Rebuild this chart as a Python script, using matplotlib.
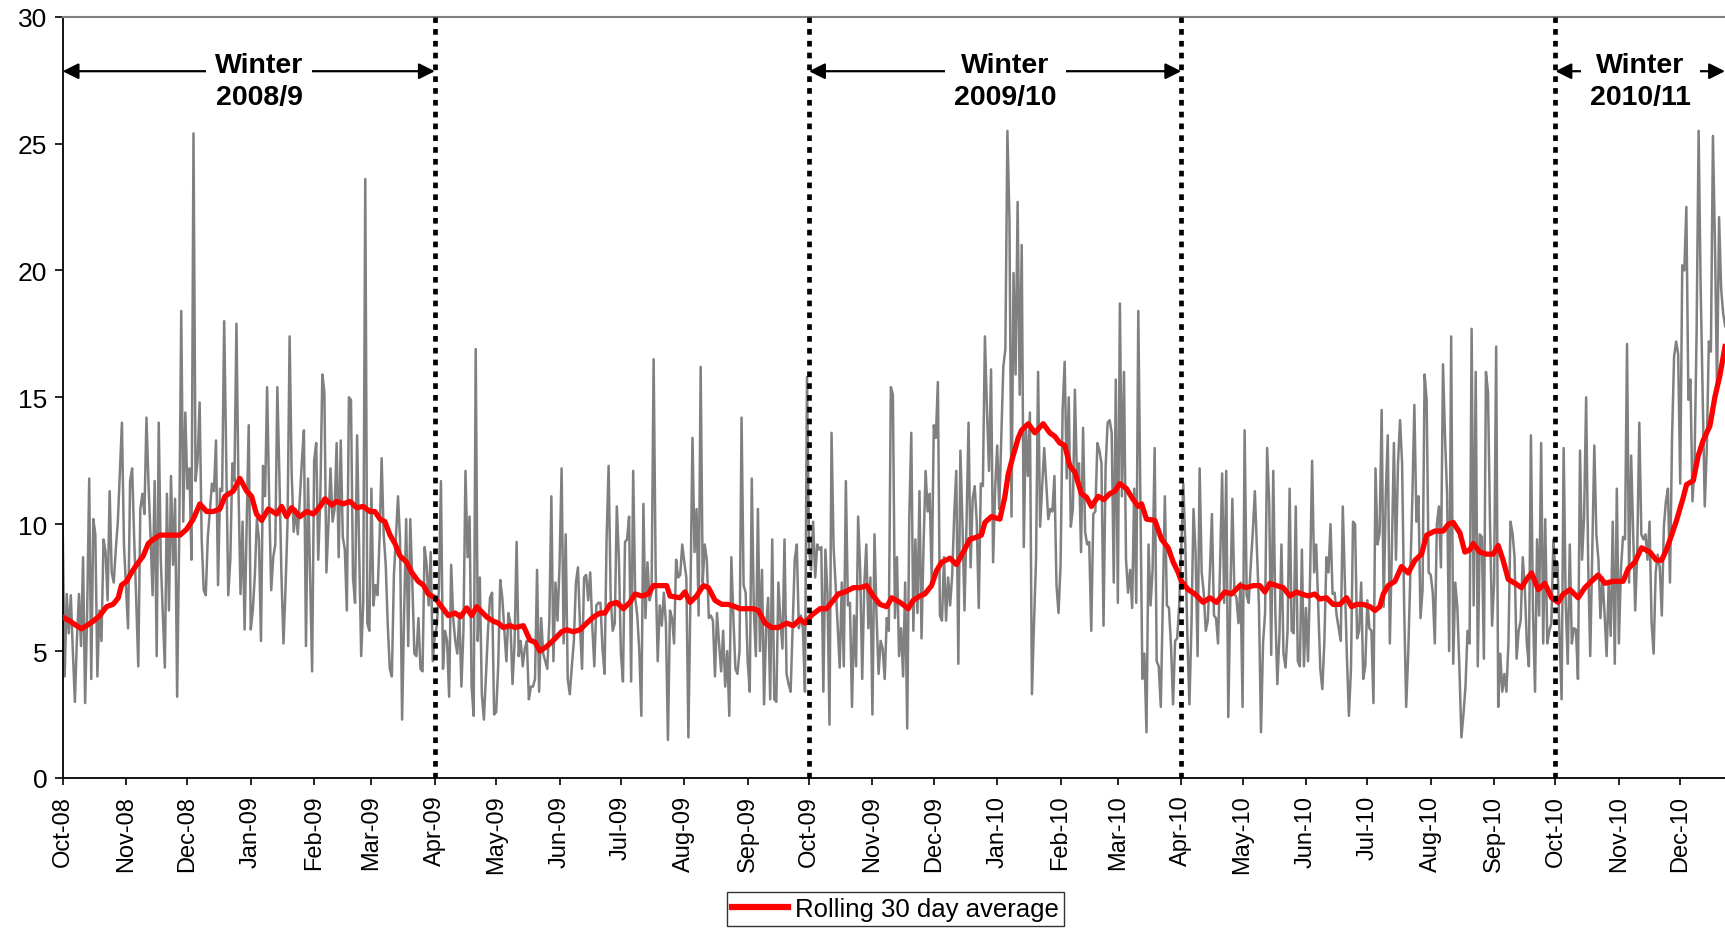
import numpy as np
import pandas as pd
import matplotlib
matplotlib.use("Agg")
import matplotlib.pyplot as plt
import matplotlib.dates as mdates

plt.rcParams['font.family'] = ['Liberation Sans', 'DejaVu Sans']

start = pd.Timestamp("2008-10-01")

# daily values, one list per half-year (Oct-Mar winters, Apr-Sep summers)
winter_0809 = [
    10.1, 4.0, 7.25, 5.7, 7.2, 5.0, 3.0, 5.5, 7.25, 5.2,
    8.7, 2.95, 6.5, 11.8, 3.9, 10.2, 9.6, 4.0, 6.6, 5.4,
    9.4, 8.9, 7.0, 11.3, 8.1, 7.7, 9.0, 10.1, 12.0, 14.0,
    9.2, 7.5, 5.9, 11.7, 12.2, 9.4, 7.0, 4.4, 10.6, 11.2,
    10.4, 14.2, 11.6, 9.5, 7.2, 11.7, 4.8, 14.0, 8.6, 6.5,
    4.35, 11.2, 6.6, 11.9, 8.4, 11.0, 3.2, 9.4, 18.4, 10.1,
    14.4, 11.4, 12.2, 8.6, 25.4, 11.7, 12.5, 14.8, 9.4, 7.4,
    7.2, 9.5, 10.5, 11.6, 11.3, 13.3, 7.6, 11.4, 11.3, 18.0,
    12.7, 7.2, 8.6, 12.4, 11.7, 17.9, 11.4, 7.25, 10.1, 5.85,
    10.0, 13.9, 5.85, 6.6, 8.0, 10.2, 9.4, 5.4, 12.3, 11.1,
    15.4, 11.0, 7.4, 8.7, 9.2, 15.4, 11.9, 8.0, 5.3, 7.5,
    10.1, 17.4, 12.0, 9.7, 10.6, 9.6, 11.0, 12.5, 13.7, 5.2,
    11.8, 8.0, 4.2, 12.5, 13.2, 8.6, 11.0, 15.9, 15.2, 8.1,
    10.0, 12.2, 10.1, 10.6, 13.2, 8.7, 13.3, 9.5, 9.0, 6.6,
    15.0, 14.9, 7.9, 6.9, 13.5, 9.0, 4.8, 6.9, 23.6, 6.1,
    5.8, 11.4, 6.8, 7.6, 7.2, 9.5, 12.6, 9.6, 8.4, 6.0,
    4.3, 4.0, 8.0, 9.5, 11.1, 9.4, 2.3, 6.5, 10.2, 5.2,
    10.2, 7.7, 4.9, 4.8, 6.3, 4.3, 4.2, 9.1, 8.4, 6.8,
    8.9, 4.6,
]
summer_09 = [
    5.6, 6.0, 7.4, 11.7, 4.3, 5.8, 5.4, 3.2,
    8.4, 6.3, 5.4, 4.9, 6.5, 3.6, 5.8, 12.1, 8.7, 10.3,
    3.6, 2.45, 16.9, 5.4, 7.9, 3.3, 2.3, 4.0, 5.8, 7.1,
    7.3, 2.5, 2.6, 4.4, 7.8, 7.1, 5.8, 4.6, 6.5, 6.1,
    3.7, 5.3, 9.3, 4.8, 5.4, 4.4, 5.1, 5.4, 3.1, 3.6,
    3.6, 3.9, 8.2, 3.4, 6.3, 4.9, 4.6, 4.3, 6.2, 11.1,
    4.6, 7.7, 6.2, 8.4, 12.2, 5.3, 9.6, 3.9, 3.3, 4.4,
    5.4, 7.7, 8.3, 6.0, 4.3, 7.9, 8.0, 7.0, 8.1, 6.0,
    4.4, 6.8, 6.9, 6.9, 5.1, 4.1, 9.4, 12.3, 7.1, 5.8,
    6.1, 10.7, 8.7, 4.9, 3.8, 9.3, 9.4, 10.3, 3.8, 12.1,
    7.1, 6.4, 5.0, 2.45, 10.8, 6.3, 8.5, 7.0, 7.3, 16.5,
    8.1, 4.6, 6.8, 6.0, 7.3, 6.1, 1.5, 6.6, 6.3, 5.3,
    8.6, 7.9, 8.0, 9.2, 8.5, 7.9, 1.6, 7.1, 13.4, 8.9,
    10.6, 6.4, 16.2, 7.7, 9.2, 8.6, 6.3, 6.4, 6.2, 4.0,
    6.5, 5.3, 4.2, 5.8, 3.6, 5.0, 2.45, 8.7, 6.3, 4.3,
    4.1, 5.0, 14.2, 7.6, 7.3, 4.6, 3.4, 11.8, 6.6, 4.8,
    10.6, 5.0, 8.2, 2.9, 5.9, 7.1, 3.1, 9.4, 3.1, 3.0,
    7.7, 6.2, 5.1, 9.4, 4.1, 3.7, 3.4, 6.0, 8.6, 9.2,
    5.9, 6.4, 5.9, 3.4, 15.8,
]
winter_0910 = [
    9.0, 8.2, 10.1, 7.9, 9.2,
    9.0, 9.1, 3.4, 9.0, 7.3, 2.1, 13.6, 9.1, 7.6, 6.0,
    4.35, 7.7, 4.4, 11.7, 6.8, 6.9, 2.8, 6.4, 4.4, 10.3,
    8.2, 3.9, 7.6, 9.2, 5.9, 7.9, 2.5, 9.6, 6.4, 4.1,
    5.4, 5.1, 3.9, 6.3, 5.8, 15.4, 15.1, 6.3, 8.7, 4.8,
    5.9, 4.0, 7.7, 1.95, 10.2, 13.6, 5.8, 9.4, 6.5, 11.3,
    5.5, 9.2, 12.1, 10.5, 11.2, 7.7, 13.9, 13.4, 15.6, 6.4,
    6.2, 8.7, 6.2, 7.9, 6.8, 8.0, 10.4, 12.1, 4.5, 12.9,
    10.1, 6.6, 10.0, 14.0, 8.3, 11.0, 11.5, 10.1, 6.7, 11.6,
    11.5, 17.4, 14.5, 12.1, 16.1, 8.5, 11.4, 13.1, 10.6, 13.4,
    16.2, 16.9, 25.5, 22.0, 10.3, 19.9, 15.9, 22.7, 15.1, 21.0,
    9.1, 13.9, 11.9, 14.4, 3.3, 6.1, 8.6, 16.0, 9.9, 11.5,
    13.0, 11.6, 10.2, 10.6, 10.5, 11.9, 7.6, 6.5, 8.4, 14.5,
    16.4, 11.8, 15.0, 9.9, 10.6, 15.3, 11.8, 12.4, 8.9, 13.8,
    9.7, 9.2, 9.3, 5.8, 10.4, 10.5, 13.2, 12.9, 12.4, 6.0,
    12.2, 14.0, 14.1, 13.6, 7.7, 15.7, 6.9, 18.7, 11.1, 16.0,
    8.6, 7.3, 8.2, 6.7, 11.4, 6.9, 18.4, 11.1, 3.9, 4.9,
    1.8, 9.2, 6.8, 8.2, 13.0, 4.6, 4.4, 2.8, 6.9, 11.1,
    6.8, 6.7, 5.2, 2.9, 5.4, 5.5, 6.8,
]
summer_10 = [
    9.0, 11.6, 9.2,
    5.6, 2.9, 6.0, 10.6, 8.9, 4.8, 12.2, 8.1, 7.3, 5.8,
    6.2, 8.1, 10.4, 6.4, 6.3, 5.3, 8.4, 12.0, 6.9, 12.1,
    2.4, 7.1, 11.0, 7.3, 7.1, 6.1, 7.7, 2.8, 13.7, 7.2,
    6.9, 8.4, 9.7, 11.3, 9.0, 6.8, 1.8, 5.3, 6.5, 13.0,
    10.9, 4.85, 12.1, 6.6, 3.7, 5.6, 9.2, 4.9, 4.35, 5.8,
    11.4, 5.8, 5.7, 10.7, 4.6, 4.4, 9.0, 4.4, 6.7, 4.6,
    7.9, 12.5, 8.1, 9.2, 6.8, 4.3, 3.5, 5.4, 8.7, 8.1,
    10.0, 7.25, 7.3, 6.4, 5.9, 5.4, 10.7, 7.7, 4.8, 2.45,
    4.3, 10.1, 10.0, 5.5, 5.8, 7.7, 3.9, 4.4, 7.0, 5.9,
    5.8, 2.95, 12.2, 9.2, 9.65, 14.5, 6.75, 11.1, 13.5, 5.3,
    9.0, 13.2, 8.6, 12.4, 14.1, 12.4, 6.75, 2.8, 4.9, 7.9,
    11.0, 14.7, 10.1, 11.1, 6.3, 7.4, 15.9, 14.9, 8.1, 8.0,
    7.3, 5.3, 10.0, 10.7, 8.3, 16.3, 13.4, 11.2, 5.0, 17.4,
    4.5, 7.7, 6.75, 4.4, 1.6, 2.5, 3.6, 5.8, 5.3, 17.7,
    6.8, 16.0, 4.4, 9.6, 9.5, 4.7, 16.0, 15.2, 10.0, 6.0,
    7.7, 17.0, 2.8, 4.9, 3.4, 4.1, 3.4, 5.3, 10.1, 9.65,
    8.7, 4.7, 5.8, 6.2, 8.7, 7.5, 5.3, 4.4, 13.5, 6.6,
    3.4, 9.4, 6.4, 13.2, 5.3, 10.2, 5.3, 5.8, 6.1, 9.4,
]
winter_1011 = [
    8.0, 8.5, 5.6, 3.1, 13.0, 6.9, 4.5, 9.2, 5.3, 5.9,
    5.85, 3.9, 12.9, 8.6, 10.3, 15.0, 8.4, 4.8, 9.0, 13.1,
    9.6, 8.6, 6.3, 7.9, 6.5, 4.8, 7.6, 5.6, 10.1, 4.5,
    11.4, 5.3, 8.2, 9.5, 9.4, 17.1, 7.7, 12.7, 9.7, 6.6,
    9.0, 14.0, 9.6, 9.4, 9.6, 8.6, 10.1, 6.1, 4.9, 8.1,
    8.8, 8.3, 6.4, 9.9, 10.9, 11.4, 7.7, 13.4, 16.6, 17.2,
    16.7, 11.6, 20.2, 20.0, 22.5, 14.9, 15.7, 10.9, 12.4, 17.5,
    25.5, 19.3, 15.0, 10.7, 13.0, 17.2, 16.8, 25.3, 21.0, 15.4,
    22.1, 19.3, 18.3, 17.8,
]

# rolling 30 day average (days after 1 Oct 2008, value)
avg_day = [
    0, 3.6, 6.8, 9.3, 11.7, 15, 18.2, 21.5, 24.8, 27.2, 28.8, 31.3, 33.7, 36.2,
    39.4, 41.9, 44.3, 47.6, 50.8, 54.9, 57.4, 60.6, 63.9, 67.1, 70.4, 73.7,
    76.9, 79.4, 83.4, 86.7, 90, 92.4, 94.8, 97.3, 100.6,
    104.7, 107.1, 109.5, 112, 116.1, 119.3, 122.6, 125.9, 128.3, 131.6, 134,
    137.3, 140.5, 143.8, 147, 150.3, 152.7, 155.2, 157.6, 160.1, 162.5, 165,
    168.2, 170.7, 173.9, 176.4, 178.8, 182.1, 185.3, 188.6, 191.9, 194.6,
    197.6, 200, 202.5,
    207.4, 210.6, 213.1, 215.5, 218.8, 221.2, 225.3, 228.5, 231, 233.4, 236.7,
    240, 244, 246.5, 249.7, 253, 256.3, 259.5, 262.8, 265.2, 267.7, 270.9,
    274.2, 277.4, 279.9, 283.2, 286.4, 288.9, 292.1, 295.4, 297, 301.9, 304.3,
    306.8,
    310, 313.3, 315.8, 319, 322.3, 325.5, 328.8, 331.3, 334.5, 337.8, 340.2,
    343.5, 346.7, 350, 354.1, 357.3, 360.6, 363, 366.3, 370.4, 373.6, 376.1,
    379.3, 382.6, 386.7, 390, 393.2, 396.4, 399.7, 403, 405.4, 409.5,
    413.5, 415.9, 419.2, 421.6, 424.9, 427.3, 429.8, 433.9, 437.1, 440.4, 443.6,
    446.9, 449.3, 451, 454.2, 458.3, 460.7, 462.4, 464.8, 467.3, 468.9, 472.2,
    475.4, 479.5, 482.7, 485.2, 487.6, 490.1, 492.5, 495, 498.2, 500.7, 503.1,
    506.4, 509.2, 512,
    514.5, 517, 520.2, 523.5, 526, 527.6, 530, 534.1, 537.4, 540.6, 543.1,
    545.5, 547.1, 550.4, 553.7, 557.7, 561, 564.3, 568.3, 571.6, 575.7, 578.9,
    582.2, 585.4, 587.9, 590.3, 593.6, 596.9, 600.1, 603.4, 605.8, 609.1,
    612.3, 614.8,
    618, 621.3, 624.6, 627.8, 630.3, 632.7, 636, 639.3, 641.7, 644.1, 645.8,
    648.2, 651.5, 654.7, 658, 661.3, 664.5, 667, 671, 675.1, 677.6, 680, 683.3,
    685.7, 688.1, 689.8, 693, 696.3, 699.6, 702, 704.4, 706.9, 710.2, 713.4,
    715.9, 718.3,
    721.6, 724.8, 728.1, 731.3, 733.8, 737.1, 741.1, 744.4, 747.6, 750.9,
    754.2, 758.2, 763.1, 765.6, 768.8, 772.1, 776.2, 779.4, 781.9, 784.3,
    786.8, 789.2, 792.5, 794.1, 797.4, 799.8, 802.2, 805.5, 808, 810.4, 812.9,
]
avg_val = [
    6.34, 6.18, 6.0, 5.88, 6.0, 6.18, 6.4, 6.75, 6.85, 7.1, 7.6, 7.75, 8.1, 8.4,
    8.75, 9.24, 9.4, 9.57, 9.57, 9.57, 9.57, 9.8, 10.2, 10.8, 10.5, 10.5,
    10.6, 11.1, 11.3, 11.8, 11.3, 11.1, 10.4, 10.15, 10.6,
    10.4, 10.7, 10.3, 10.65, 10.3, 10.5, 10.4, 10.7, 11.0, 10.75, 10.9,
    10.8, 10.9, 10.65, 10.7, 10.5, 10.5, 10.2, 10.1, 9.57, 9.24, 8.75,
    8.5, 8.1, 7.75, 7.6, 7.25, 7.1, 6.75, 6.4, 6.5, 6.35,
    6.7, 6.4, 6.75,
    6.34, 6.18, 6.1, 5.93, 6.0, 5.93, 6.0, 5.43, 5.35, 5.0, 5.18,
    5.43, 5.76, 5.84, 5.76, 5.84, 6.1, 6.34, 6.5, 6.5, 6.84, 6.92,
    6.67, 6.92, 7.25, 7.17, 7.25, 7.58, 7.58, 7.58, 7.17, 7.1, 7.33,
    6.92,
    7.17, 7.58, 7.5, 7.0, 6.84, 6.84, 6.75, 6.67, 6.67, 6.67, 6.6,
    6.1, 5.93, 5.93, 6.1, 6.0, 6.26, 6.1, 6.42, 6.67, 6.67, 6.92,
    7.25, 7.33, 7.5, 7.5, 7.58, 7.17, 6.84, 6.75, 7.1, 6.92,
    6.67, 7.0, 7.17, 7.25, 7.58, 8.16, 8.5, 8.66, 8.41, 8.9, 9.4,
    9.49, 9.57, 10.07, 10.3, 10.2, 11.06, 11.97, 12.7, 13.4, 13.7, 13.96,
    13.6, 13.96, 13.6, 13.46, 13.2, 13.1, 12.3, 12.05, 11.2, 11.06, 10.7,
    11.1, 10.97, 11.2,
    11.3, 11.6, 11.4, 10.97, 10.7, 10.8, 10.2, 10.15, 9.4, 9.07, 8.5,
    8.1, 7.75, 7.42, 7.25, 6.92, 7.1, 6.92, 7.33, 7.25, 7.58, 7.5,
    7.58, 7.58, 7.33, 7.67, 7.58, 7.5, 7.17, 7.33, 7.25, 7.17,
    7.25, 7.05,
    7.1, 6.84, 6.84, 7.1, 6.75, 6.84, 6.84, 6.75, 6.6, 6.75, 7.25,
    7.58, 7.75, 8.33, 8.08, 8.58, 8.82, 9.57, 9.73, 9.73, 10.0, 10.07, 9.65,
    8.9, 8.99, 9.24, 8.9, 8.82, 8.82, 9.16, 8.58, 7.83, 7.67, 7.5,
    7.83, 8.08,
    7.42, 7.67, 7.1, 6.92, 7.25, 7.42, 7.1, 7.5, 7.75, 8.0,
    7.67, 7.75, 7.75, 8.25, 8.5, 9.07, 8.9, 8.58, 8.58, 9.0,
    9.57, 10.15, 11.06, 11.56, 11.72, 12.7, 13.3, 13.87, 15.03, 15.86, 17.0,
]

season_breaks = ["2009-04-01", "2009-10-01", "2010-04-01", "2010-10-01"]
winter_starts = ["2008-10-01", "2009-10-01", "2010-10-01"]
winter_ends = ["2009-04-01", "2010-04-01", None]
winter_names = ["Winter\n2008/9", "Winter\n2009/10", "Winter\n2010/11"]

daily = np.concatenate([winter_0809, summer_09, winter_0910, summer_10, winter_1011])
dates = start + pd.to_timedelta(np.arange(len(daily)), unit="D")
avg_dates = start + pd.to_timedelta(np.array(avg_day), unit="D")
x_end = start + pd.Timedelta(days=812.9)

fig = plt.figure(figsize=(17.25, 9.29), dpi=100)
ax = fig.add_axes([0.0363, 0.1615, 0.9637, 0.8195])

ax.plot(dates, daily, color="#808080", lw=1.8, zorder=2)
ax.plot(avg_dates, avg_val, color="#ff0000", lw=3.8, zorder=3,
        label="Rolling 30 day average")

for b in season_breaks:
    ax.axvline(pd.Timestamp(b), color="black", lw=3.4,
               linestyle=(0, (1.2, 1.3)), zorder=4)

ax.set_xlim(start, x_end)
ax.set_ylim(0, 30)

# winter arrows and labels
for s, e, name in zip(winter_starts, winter_ends, winter_names):
    x0 = mdates.date2num(pd.Timestamp(s))
    x1 = mdates.date2num(pd.Timestamp(e)) if e else mdates.date2num(x_end)
    ax.annotate("", xy=(x0, 27.85), xytext=(x1, 27.85),
                arrowprops=dict(arrowstyle="<|-|>", color="black", lw=1.6,
                                mutation_scale=24, shrinkA=0, shrinkB=0),
                zorder=5)
    xm = (x0 + x1) / 2 + (5 if e else 0)
    ax.text(xm, 27.45, name, ha="center", va="center", fontsize=20.5,
            fontweight="bold", linespacing=1.3, zorder=6,
            bbox=dict(boxstyle="square,pad=0.32", facecolor="white",
                      edgecolor="none"))

ax.set_yticks(np.arange(0, 31, 5))
ax.xaxis.set_major_locator(mdates.MonthLocator())
ax.xaxis.set_major_formatter(mdates.DateFormatter("%b-%y"))
ax.tick_params(axis="x", labelrotation=90, labelsize=17, length=5, width=1.2,
               direction="out", pad=7)
ax.tick_params(axis="y", labelsize=19, length=6, width=1.2, direction="out", pad=5)

ax.spines["right"].set_visible(False)
ax.spines["top"].set_color("#808080")
ax.spines["top"].set_linewidth(1.5)
ax.spines["left"].set_linewidth(1.3)
ax.spines["bottom"].set_linewidth(1.3)

leg = ax.legend(loc="center", bbox_to_anchor=(0.519, 0.0205),
                bbox_transform=fig.transFigure, fontsize=18.5, frameon=True,
                fancybox=False, framealpha=1, edgecolor="#333333",
                handlelength=2.2, handletextpad=0.25, borderpad=0.2,
                borderaxespad=0)
leg.get_frame().set_linewidth(1.0)
leg.get_lines()[0].set_linewidth(4.5)

fig.savefig("out.png", dpi=100)
